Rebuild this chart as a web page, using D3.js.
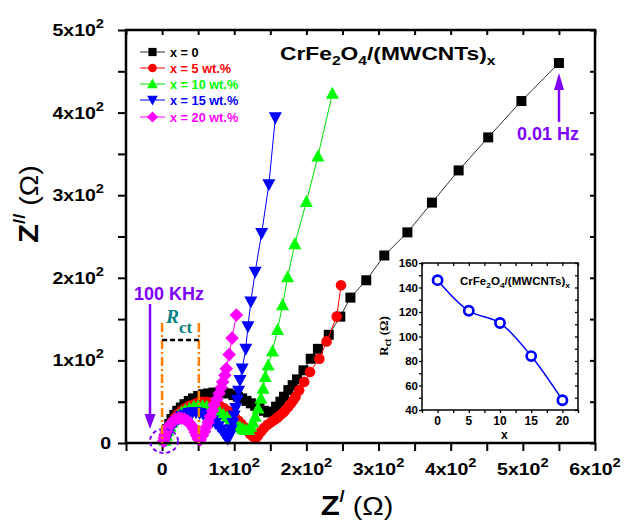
<!DOCTYPE html>
<html><head><meta charset="utf-8">
<script src="https://cdn.jsdelivr.net/npm/d3@7/dist/d3.min.js"></script>
<style>body{margin:0;background:#fff}svg{display:block}</style>
</head><body>
<svg id="c" width="628" height="520"></svg>
<script>
// ---------------- DATA ----------------
const seriesNames = ["x = 0", "x = 5 wt.%", "x = 10 wt.%", "x = 15 wt.%", "x = 20 wt.%"];

// Nyquist data: [Z' (Ohm), Z'' (Ohm)]
const dataX0 = [[3,4],[5,11],[7,17],[10,23],[13,29],[17,34],[21,39],[26,43],[31,47],[37,51],[43,54],[50,57],[57,59],[64,60],[71,61],[78,61],[85,61],[92,60],[99,58],[105,56],[111,54],[117,51],[123,48],[129,45],[135,42],[141,39],[147,37],[152,38],[158,44],[164,50],[169,56],[175,64],[181,70],[187,77],[196,88],[206,102],[216,114],[231,131],[247,153],[261,176],[283,197],[308,227],[340,255],[374,291],[411,330],[452,370],[498,414],[550,460]];
const dataX5 = [[4,3],[6,9],[8,15],[11,21],[14,26],[18,31],[22,35],[27,39],[32,42],[38,45],[44,47],[50,49],[56,50],[62,50],[68,49],[74,47],[80,45],[86,42],[91,39],[96,35],[101,31],[106,27],[110,23],[114,19],[118,15],[122,11],[126,8],[130,6],[133,9],[137,14],[141,18],[146,22],[151,25],[156,28],[160,31],[164,34],[168,37],[171,40],[175,44],[179,48],[182,52],[185,56],[190,64],[197,74],[205,86],[218,102],[228,123],[242,153],[248,191]];
const dataX10 = [[4,3],[6,9],[8,15],[11,20],[14,25],[18,29],[22,33],[27,37],[32,40],[38,42],[44,44],[50,45],[56,45],[62,44],[68,42],[74,40],[80,37],[85,34],[90,31],[95,27],[100,24],[104,21],[108,19],[112,17],[116,16],[120,16],[123,20],[126,25],[129,32],[133,42],[137,54],[140,66],[143,80],[147,94],[153,111],[160,137],[167,167],[174,201],[184,241],[200,292],[216,347],[236,423]];
const dataX15 = [[5,3],[7,8],[9,13],[12,18],[15,22],[19,26],[23,29],[27,32],[32,34],[37,36],[42,37],[47,37],[52,36],[57,35],[62,33],[66,30],[70,27],[74,24],[78,20],[82,16],[85,12],[88,8],[91,5],[94,9],[96,16],[98,24],[100,33],[102,42],[104,52],[106,63],[108,76],[111,90],[116,114],[119,141],[123,171],[129,207],[138,254],[148,313],[157,394]];
const dataX20 = [[2,2],[3,6],[4,10],[6,14],[8,18],[10,21],[13,24],[16,27],[19,29],[23,30],[27,30],[31,29],[35,27],[38,24],[41,21],[44,17],[46,13],[48,9],[50,5],[53,4],[56,9],[59,14],[61,19],[64,25],[67,32],[70,39],[72,46],[76,53],[79,60],[82,67],[84,74],[87,82],[89,90],[93,107],[97,127],[103,155]];

// Main axis ticks & labels
const xTickValues = [0, 100, 200, 300, 400, 500, 600];
const xTickMantissa = ["0", "1x10", "2x10", "3x10", "4x10", "5x10", "6x10"];
const yTickValues = [0, 100, 200, 300, 400, 500];
const yTickMantissa = ["0", "1x10", "2x10", "3x10", "4x10", "5x10"];

// Inset data: Rct vs x
const insetX = [0, 5, 10, 15, 20];
const insetRct = [146, 121, 111, 84, 48];
const insetXTicks = [0, 5, 10, 15, 20];
const insetYTicks = [40, 60, 80, 100, 120, 140, 160];

// ---------------- DRAWING ----------------
const svg = d3.select("#c");
const SANS = "'Liberation Sans', Arial, sans-serif";
const SERIF = "'Liberation Serif', 'Times New Roman', serif";
const PURPLE = "#8000ff";

const x = d3.scaleLinear().domain([-50, 600]).range([126, 595]);
const y = d3.scaleLinear().domain([0, 500]).range([443, 30]);

function label(parent, px, py, o) {
  const g = parent.append("g")
    .attr("transform", `translate(${px},${py}) rotate(${o.rot || 0}) scale(${o.sx || 1},1)`);
  return g.append("text")
    .attr("text-anchor", o.anchor || "start")
    .attr("font-family", o.family || SANS)
    .attr("font-size", o.size)
    .attr("font-weight", o.weight || "bold")
    .attr("font-style", o.style || "normal")
    .attr("fill", o.fill || "#000");
}

const shapes = {
  square: s => `M${-s},${-s}h${2*s}v${2*s}h${-2*s}Z`,
  circle: s => `M${s},0A${s},${s} 0 1,1 ${-s},0A${s},${s} 0 1,1 ${s},0Z`,
  tri: s => `M0,${-s*1.05}L${s},${s*0.8}L${-s},${s*0.8}Z`,
  itri: s => `M0,${s*1.05}L${s},${-s*0.8}L${-s},${-s*0.8}Z`,
  diamond: s => `M0,${-s}L${s},0L0,${s}L${-s},0Z`
};

const series = [
  {data: dataX0, color: "#000000", line: "#333333", shape: "square", size: 5},
  {data: dataX5, color: "#ff0000", line: "#ff0000", shape: "circle", size: 5.3},
  {data: dataX10, color: "#00ff00", line: "#00dd00", shape: "tri", size: 6.5},
  {data: dataX15, color: "#0000ff", line: "#0000ff", shape: "itri", size: 6.5},
  {data: dataX20, color: "#ff00ff", line: "#ff00ff", shape: "diamond", size: 6.8}
];

// Axes ticks (main)
const minorX = d3.range(-50, 601, 50);
const minorY = d3.range(0, 501, 50);
function styleAxis(g) {
  g.select(".domain").remove();
  g.selectAll(".tick line").attr("stroke", "#000").attr("stroke-width", 2);
  g.selectAll(".tick text").remove();
}
svg.append("g").attr("transform", `translate(0,${y(0)})`)
  .call(d3.axisBottom(x).tickValues(minorX).tickSize(8)).call(styleAxis);
svg.append("g").attr("transform", `translate(0,${y(500)})`)
  .call(d3.axisTop(x).tickValues(minorX).tickSize(-5)).call(styleAxis);
svg.append("g").attr("transform", `translate(${x(-50)},0)`)
  .call(d3.axisLeft(y).tickValues(minorY).tickSize(8)).call(styleAxis);
svg.append("g").attr("transform", `translate(${x(600)},0)`)
  .call(d3.axisRight(y).tickValues(minorY).tickSize(-5)).call(styleAxis);

// Tick labels with superscripts
xTickValues.forEach((v, i) => {
  const t = label(svg, x(v), 475, {size: 16, anchor: "middle", sx: 1.22});
  t.append("tspan").text(xTickMantissa[i]);
  if (v !== 0) t.append("tspan").attr("font-size", 12).attr("dy", -8).text("2");
});
yTickValues.forEach((v, i) => {
  const t = label(svg, v === 0 ? 111 : 104, y(v) + 6, {size: 16, anchor: "end", sx: 1.22});
  t.append("tspan").text(yTickMantissa[i]);
  if (v !== 0) t.append("tspan").attr("font-size", 12).attr("dy", -8).text("2");
});

// Axis titles
{
  const t = label(svg, 357, 515, {size: 27, anchor: "middle", sx: 1.15});
  t.append("tspan").text("Z");
  t.append("tspan").attr("font-size", 16).attr("dy", -13).text("/");
  t.append("tspan").attr("font-size", 25).attr("font-weight", "normal").attr("dy", 13).text(" (Ω)");
}
{
  const t = label(svg, 38, 204, {size: 27, anchor: "middle", sx: 1.15, rot: -90});
  t.append("tspan").text("Z");
  t.append("tspan").attr("font-size", 16).attr("dy", -13).text("//");
  t.append("tspan").attr("font-size", 25).attr("font-weight", "normal").attr("dy", 13).text(" (Ω)");
}

// Data series
const plot = svg.append("g");
const lineGen = d3.line().x(d => x(d[0])).y(d => y(d[1]));
series.forEach(s => {
  plot.append("path").attr("d", lineGen(s.data)).attr("fill", "none")
    .attr("stroke", s.line).attr("stroke-width", 1);
  plot.selectAll(null).data(s.data).enter().append("path")
    .attr("transform", d => `translate(${x(d[0])},${y(d[1])})`)
    .attr("d", shapes[s.shape](s.size)).attr("fill", s.color);
});

// Frame
svg.append("rect").attr("x", x(-50)).attr("y", y(500))
  .attr("width", x(600) - x(-50)).attr("height", y(0) - y(500))
  .attr("fill", "none").attr("stroke", "#000").attr("stroke-width", 2.5);

// Legend
const legendRows = [52, 68, 84, 100, 117];
series.forEach((s, i) => {
  const ly = legendRows[i];
  svg.append("line").attr("x1", 140).attr("x2", 165).attr("y1", ly).attr("y2", ly)
    .attr("stroke", s.line).attr("stroke-width", 1);
  svg.append("path").attr("transform", `translate(152.5,${ly})`)
    .attr("d", shapes[s.shape](s.size * 0.82)).attr("fill", s.color);
  label(svg, 170, ly + 4.5, {size: 12, fill: s.color, sx: 1.06}).text(seriesNames[i]);
});

// Title
{
  const t = label(svg, 280, 60, {size: 19, sx: 1.2});
  t.append("tspan").text("CrFe");
  t.append("tspan").attr("font-size", 13).attr("dy", 5).text("2");
  t.append("tspan").attr("dy", -5).text("O");
  t.append("tspan").attr("font-size", 13).attr("dy", 5).text("4");
  t.append("tspan").attr("dy", -5).text("/(MWCNTs)");
  t.append("tspan").attr("font-size", 13).attr("dy", 5).text("x");
}

// Annotations
// 100 KHz arrow
label(svg, 134, 300, {size: 18, fill: PURPLE}).text("100 KHz");
svg.append("line").attr("x1", 150).attr("x2", 150).attr("y1", 304).attr("y2", 418)
  .attr("stroke", PURPLE).attr("stroke-width", 2.5);
svg.append("path").attr("d", "M144.5,414L155.5,414L150,429Z").attr("fill", PURPLE);
svg.append("ellipse").attr("cx", 164).attr("cy", 441).attr("rx", 14).attr("ry", 12)
  .attr("fill", "none").attr("stroke", PURPLE).attr("stroke-width", 2).attr("stroke-dasharray", "4,3");
// Rct markers
[0, 51].forEach(v => {
  svg.append("line").attr("x1", x(v)).attr("x2", x(v)).attr("y1", 323).attr("y2", 443)
    .attr("stroke", "#ff8000").attr("stroke-width", 2.5).attr("stroke-dasharray", "9,3,2,3");
});
svg.append("line").attr("x1", x(0)).attr("x2", x(51)).attr("y1", 340).attr("y2", 340)
  .attr("stroke", "#000").attr("stroke-width", 2.5).attr("stroke-dasharray", "5,3");
{
  const t = label(svg, 166, 323, {size: 19.5, fill: "#008080", family: SERIF, style: "italic"});
  t.append("tspan").text("R");
  t.append("tspan").attr("font-size", 17).attr("font-style", "normal").attr("dy", 10).text("ct");
}
// 0.01 Hz arrow
label(svg, 517, 140, {size: 18, fill: PURPLE}).text("0.01 Hz");
svg.append("line").attr("x1", 559).attr("x2", 559).attr("y1", 122).attr("y2", 86)
  .attr("stroke", PURPLE).attr("stroke-width", 2.5);
svg.append("path").attr("d", "M554,90L564,90L559,73Z").attr("fill", PURPLE);

// ---------------- INSET ----------------
const ix = d3.scaleLinear().domain([-2.5, 22.5]).range([422, 578]);
const iy = d3.scaleLinear().domain([40, 160]).range([410, 263]);
const inset = svg.append("g");
inset.append("rect").attr("x", 422).attr("y", 263).attr("width", 156).attr("height", 147)
  .attr("fill", "#fff");
function styleInset(g) {
  g.select(".domain").remove();
  g.selectAll(".tick line").attr("stroke", "#000").attr("stroke-width", 1.3);
  g.selectAll(".tick text").remove();
}
const iMinorX = d3.range(-2.5, 22.6, 2.5);
const iMinorY = d3.range(40, 161, 10);
inset.append("g").attr("transform", "translate(0,410)")
  .call(d3.axisBottom(ix).tickValues(iMinorX).tickSize(3)).call(styleInset);
inset.append("g").attr("transform", "translate(0,263)")
  .call(d3.axisTop(ix).tickValues(iMinorX).tickSize(-3)).call(styleInset);
inset.append("g").attr("transform", "translate(422,0)")
  .call(d3.axisLeft(iy).tickValues(iMinorY).tickSize(3)).call(styleInset);
inset.append("g").attr("transform", "translate(578,0)")
  .call(d3.axisRight(iy).tickValues(iMinorY).tickSize(-3)).call(styleInset);
inset.append("rect").attr("x", 422).attr("y", 263).attr("width", 156).attr("height", 147)
  .attr("fill", "none").attr("stroke", "#000").attr("stroke-width", 1.5);
insetXTicks.forEach(v => label(inset, ix(v), 425, {size: 12, anchor: "middle"}).text(v));
insetYTicks.forEach(v => label(inset, 418, iy(v) + 4, {size: 11.5, anchor: "end"}).text(v));
label(inset, 501, 439, {size: 12}).text("x");
{
  const t = label(inset, 388, 336, {size: 13, anchor: "middle", rot: -90, family: SERIF});
  t.append("tspan").text("R");
  t.append("tspan").attr("font-size", 10).attr("dy", 3).text("ct");
  t.append("tspan").attr("dy", -3).text(" (Ω)");
}
{
  const t = label(inset, 460, 285, {size: 11, sx: 1.05});
  t.append("tspan").text("CrFe");
  t.append("tspan").attr("font-size", 8).attr("dy", 3).text("2");
  t.append("tspan").attr("dy", -3).text("O");
  t.append("tspan").attr("font-size", 8).attr("dy", 3).text("4");
  t.append("tspan").attr("dy", -3).text("/(MWCNTs)");
  t.append("tspan").attr("font-size", 8).attr("dy", 3).text("x");
}
const insetPts = insetX.map((v, i) => [v, insetRct[i]]);
inset.append("path")
  .attr("d", d3.line().x(d => ix(d[0])).y(d => iy(d[1])).curve(d3.curveCatmullRom)(insetPts))
  .attr("fill", "none").attr("stroke", "#0000ff").attr("stroke-width", 1.5);
inset.selectAll(null).data(insetPts).enter().append("circle")
  .attr("cx", d => ix(d[0])).attr("cy", d => iy(d[1])).attr("r", 4.6)
  .attr("fill", "#fff").attr("stroke", "#0000ff").attr("stroke-width", 2.7);
</script>
</body></html>
